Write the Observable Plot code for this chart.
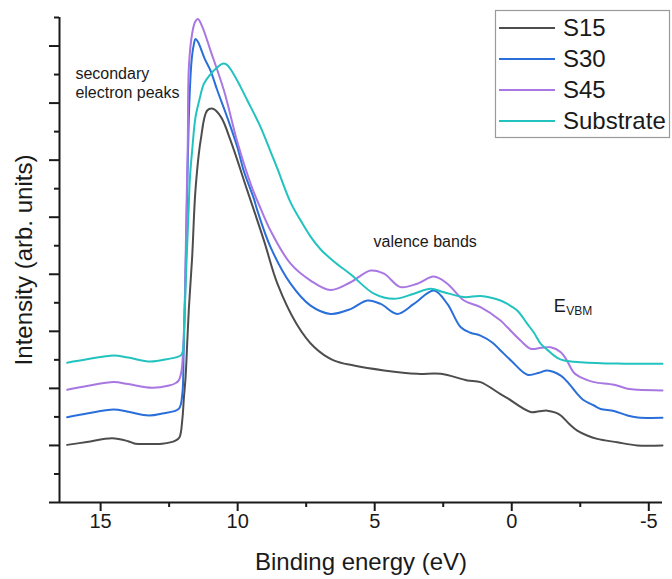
<!DOCTYPE html>
<html><head><meta charset="utf-8">
<script src="https://cdn.jsdelivr.net/npm/d3@7"></script>
<script src="https://cdn.jsdelivr.net/npm/@observablehq/plot@0.6"></script>
<style>
body{margin:0;background:#fff}
svg{font-family:"Liberation Sans",Arial,sans-serif}
</style>
</head><body><div id="chart"></div>
<script>
const seriesNames = ["S15", "S30", "S45", "Substrate"];
const seriesColors = ["#4d4d4d", "#2a6fd9", "#a877e2", "#22c3bf"];

const s15Energy = [16.22, 15.5, 14.58, 14.0, 13.73, 13.2, 12.75, 12.27, 12.12, 12.02, 11.96, 11.90, 11.84, 11.78, 11.66, 11.54, 11.35, 11.11, 10.90, 10.6, 10.26, 9.65, 9.04, 8.55, 7.85, 7.2, 6.5, 5.76, 4.66, 3.45, 2.59, 1.62, 1.14, 0.41, 0.16, -0.69, -1.0, -1.30, -1.6, -1.79, -2.1, -2.39, -2.75, -3.12, -3.85, -4.58, -5.5];
const s15Intensity = [2.02, 2.12, 2.25, 2.15, 2.06, 2.05, 2.06, 2.17, 2.29, 2.9, 3.69, 4.39, 5.6, 6.8, 8.6, 10.94, 12.69, 13.74, 13.80, 13.5, 12.69, 10.94, 9.18, 7.67, 6.26, 5.44, 4.98, 4.80, 4.63, 4.51, 4.51, 4.28, 4.22, 3.80, 3.66, 3.17, 3.2, 3.22, 3.15, 3.05, 2.75, 2.52, 2.35, 2.23, 2.11, 2.00, 2.00];

const s30Energy = [16.22, 15.5, 14.52, 14.0, 13.24, 12.75, 12.15, 12.02, 11.97, 11.90, 11.84, 11.76, 11.68, 11.6, 11.54, 11.45, 11.2, 10.99, 10.74, 10.38, 10.01, 9.77, 9.41, 9.28, 8.80, 8.07, 7.34, 6.61, 5.88, 5.27, 4.78, 4.18, 3.57, 2.84, 2.35, 1.86, 1.5, 1.14, 0.7, 0.41, 0.0, -0.57, -1.0, -1.30, -1.79, -2.1, -2.39, -2.6, -3.00, -3.24, -3.73, -4.22, -4.6, -5.5];
const s30Intensity = [2.99, 3.12, 3.26, 3.18, 3.05, 3.12, 3.28, 3.8, 5.3, 8.0, 11.0, 14.09, 15.5, 16.05, 16.25, 16.15, 15.55, 15.14, 14.44, 13.50, 12.45, 11.6, 10.65, 10.23, 8.95, 7.67, 6.90, 6.61, 6.78, 7.08, 6.96, 6.61, 6.96, 7.43, 6.96, 6.14, 5.95, 5.85, 5.6, 5.33, 4.95, 4.48, 4.55, 4.63, 4.45, 4.15, 3.81, 3.6, 3.40, 3.28, 3.21, 3.05, 2.98, 2.97];

const s45Energy = [16.22, 15.5, 14.52, 14.0, 13.12, 12.5, 12.27, 12.15, 12.05, 11.96, 11.90, 11.86, 11.82, 11.78, 11.66, 11.55, 11.45, 11.3, 10.99, 10.50, 10.0, 9.5, 9.16, 8.80, 8.07, 7.34, 6.61, 5.88, 5.15, 4.66, 4.06, 3.45, 2.84, 2.35, 1.74, 1.14, 0.41, 0.16, -0.32, -0.69, -1.06, -1.42, -1.79, -2.0, -2.27, -2.6, -3.00, -3.73, -4.22, -4.6, -5.5];
const s45Intensity = [3.95, 4.08, 4.22, 4.15, 4.02, 4.1, 4.18, 4.28, 4.6, 6.0, 8.5, 10.6, 12.6, 15.26, 16.44, 16.85, 16.95, 16.7, 15.84, 14.44, 12.6, 11.1, 10.3, 9.53, 8.37, 7.78, 7.45, 7.72, 8.13, 8.02, 7.55, 7.67, 7.92, 7.67, 7.08, 6.85, 6.38, 6.14, 5.68, 5.39, 5.42, 5.44, 5.27, 5.0, 4.55, 4.35, 4.22, 4.13, 3.99, 3.95, 3.93];

const subEnergy = [16.22, 15.5, 14.52, 14.0, 13.18, 12.6, 12.08, 12.0, 11.95, 11.90, 11.80, 11.74, 11.66, 11.54, 11.4, 11.23, 11.0, 10.8, 10.55, 10.4, 10.2, 9.89, 9.65, 9.16, 8.80, 8.55, 8.07, 7.70, 7.34, 6.97, 6.49, 5.88, 5.03, 4.30, 3.57, 2.96, 2.47, 1.74, 1.14, 0.41, 0.16, -0.20, -0.57, -0.81, -1.06, -1.30, -1.66, -1.91, -2.52, -3.85, -5.5];
const subIntensity = [4.90, 5.02, 5.15, 5.08, 4.94, 5.02, 5.15, 5.3, 6.2, 7.6, 10.0, 11.4, 12.34, 13.50, 14.1, 14.68, 15.0, 15.2, 15.38, 15.35, 15.1, 14.56, 14.1, 13.15, 12.3, 11.7, 10.52, 9.88, 9.32, 8.87, 8.45, 8.0, 7.32, 7.14, 7.32, 7.49, 7.37, 7.20, 7.24, 7.08, 6.96, 6.73, 6.26, 5.95, 5.56, 5.35, 5.07, 4.98, 4.92, 4.87, 4.86];

const xMajorTicks = [15, 10, 5, 0, -5];
const xMinorTicks = [12.5, 7.5, 2.5, -2.5];
const yMajorTicks = [0, 2, 4, 6, 8, 10, 12, 14, 16];
const yMinorTicks = [1, 3, 5, 7, 9, 11, 13, 15, 17];

const noteLabels = ["secondary\nelectron peaks", "valence bands"];
const noteEnergy = [15.92, 5.04];
const noteIntensity = [14.74, 9.18];
const vbmEnergy = [-1.53];
const vbmIntensity = [6.87];

const energies = [s15Energy, s30Energy, s45Energy, subEnergy];
const intensities = [s15Intensity, s30Intensity, s45Intensity, subIntensity];
const rows = [];
seriesNames.forEach((name, i) => {
  energies[i].forEach((e, j) => rows.push({series: name, energy: e, intensity: intensities[i][j]}));
});
const notes = noteLabels.map((t, i) => ({text: t, energy: noteEnergy[i], intensity: noteIntensity[i]}));
const vbm = vbmEnergy.map((e, i) => ({energy: e, intensity: vbmIntensity[i]}));

const ink = "#1a1a1a";
const plot = Plot.plot({
  width: 672, height: 579,
  marginLeft: 59, marginRight: 10, marginTop: 17, marginBottom: 77,
  style: {fontFamily: '"Liberation Sans", Arial, sans-serif', background: "white", color: ink},
  x: {domain: [16.5, -5.5]},
  y: {domain: [0, 17]},
  color: {domain: seriesNames, range: seriesColors},
  marks: [
    Plot.line(rows, {x: "energy", y: "intensity", z: "series", stroke: "series", strokeWidth: 2, curve: "catmull-rom"}),
    Plot.ruleY([0], {strokeWidth: 2, stroke: ink}),
    Plot.ruleX([16.5], {strokeWidth: 2, stroke: ink}),
    Plot.axisX({ticks: xMajorTicks, tickSize: 9, tickPadding: 2, fontSize: 20, strokeWidth: 2, label: null, tickFormat: d => String(d)}),
    Plot.axisX({ticks: xMinorTicks, tickSize: 5, strokeWidth: 2, label: null, fill: "none", tickFormat: () => ""}),
    Plot.axisY({ticks: yMajorTicks, tickSize: 10, strokeWidth: 2, label: null, fill: "none", tickFormat: () => ""}),
    Plot.axisY({ticks: yMinorTicks, tickSize: 5, strokeWidth: 2, label: null, fill: "none", tickFormat: () => ""}),
    Plot.text(["Binding energy (eV)"], {frameAnchor: "bottom", dy: 60, fontSize: 24, textAnchor: "middle", lineAnchor: "middle", fill: ink}),
    Plot.text(["Intensity (arb. units)"], {frameAnchor: "left", rotate: -90, dx: -35, fontSize: 24, textAnchor: "middle", lineAnchor: "middle", fill: ink}),
    Plot.text(notes, {x: "energy", y: "intensity", text: "text", textAnchor: "start", fontSize: 16, lineHeight: 1.19, lineAnchor: "middle", fill: ink}),
    Plot.text(vbm, {x: "energy", y: "intensity", text: () => "E", textAnchor: "start", fontSize: 18, lineAnchor: "middle", fill: ink}),
    Plot.text(vbm, {x: "energy", y: "intensity", text: () => "VBM", textAnchor: "start", fontSize: 12, lineAnchor: "middle", dx: 12.5, dy: 4.5, fill: ink})
  ]
});

const svg = d3.select(plot);
const lg = svg.append("g").attr("text-anchor", "start");
lg.append("rect").attr("x", 495.5).attr("y", 10.5).attr("width", 174).attr("height", 127)
  .attr("fill", "white").attr("stroke", "#9a9a9a").attr("stroke-width", 1.2);
seriesNames.forEach((name, i) => {
  const cy = 28 + i * 31;
  lg.append("line").attr("x1", 499).attr("x2", 555).attr("y1", cy).attr("y2", cy)
    .attr("stroke", seriesColors[i]).attr("stroke-width", 2);
  lg.append("text").attr("x", 563).attr("y", cy).attr("dy", "0.35em").attr("text-anchor", "start")
    .attr("font-size", 24).attr("fill", ink).text(name);
});
document.getElementById("chart").appendChild(plot);
</script>
</body></html>
